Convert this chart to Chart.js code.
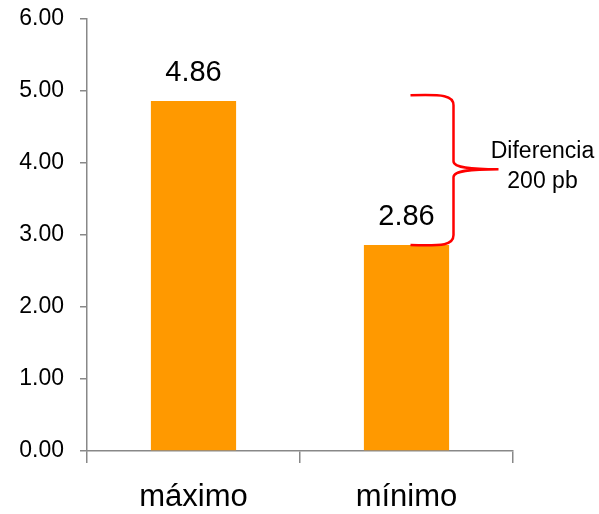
<!DOCTYPE html><html lang="es"><head><meta charset="utf-8">
<title>máximo / mínimo</title>
<script src="https://cdn.jsdelivr.net/npm/chart.js"></script>
<style>
  html, body { margin: 0; padding: 0; background: #fff; }
  #chart { display: block; }
</style>
</head>
<body>
<canvas id="chart" width="599" height="514"></canvas>
<script>
  // datos
  const categories = ['máximo', 'mínimo'];
  const values = [4.86, 2.86];
  const braceRange = [2.86, 4.94]; // la llave roja va de aquí a aquí
  const noteLines = ['Diferencia', '200 pb'];

  const FONT = '"Liberation Sans", Arial, sans-serif';
  const AXIS = '#888888';

  // etiquetas de valor y la llave
  const extras = {
    id: 'extras',
    afterDatasetsDraw(chart) {
      const c = chart.ctx;
      const meta = chart.getDatasetMeta(0);
      c.save();
      c.fillStyle = '#000';
      c.font = '29px ' + FONT;
      c.textAlign = 'center';
      c.textBaseline = 'alphabetic';
      meta.data.forEach((bar, i) => {
        c.fillText(values[i].toFixed(2), bar.x, bar.y - 20);
      });

      const x = chart.scales.x, y = chart.scales.y;
      const cx = x.getPixelForValue(1);
      const yb = y.getPixelForValue(braceRange[0]);
      const yt = y.getPixelForValue(braceRange[1]);
      const ym = (yb + yt) / 2 - 1;
      const x0 = cx + 4, x1 = cx + 47, x2 = cx + 92;
      c.strokeStyle = '#ff0000';
      c.lineWidth = 2.5;
      c.beginPath();
      c.moveTo(x0, yt);
      c.bezierCurveTo(x1 - 10, yt - 1, x1, yt, x1, yt + 10);
      c.lineTo(x1, ym - 8);
      c.bezierCurveTo(x1, ym - 1, x1 + 20, ym, x2, ym);
      c.bezierCurveTo(x1 + 20, ym, x1, ym + 1, x1, ym + 8);
      c.lineTo(x1, yb - 10);
      c.bezierCurveTo(x1, yb, x1 - 10, yb + 1, x0, yb);
      c.stroke();

      c.font = '23px ' + FONT;
      c.fillText(noteLines[0], cx + 136, ym - 11);
      c.fillText(noteLines[1], cx + 136, ym + 19);
      c.restore();
    }
  };

  const ctx = document.getElementById('chart').getContext('2d');
  new Chart(ctx, {
    type: 'bar',
    data: {
      labels: categories,
      datasets: [{
        data: values,
        backgroundColor: '#ff9900',
        borderWidth: 0,
        barPercentage: 0.4,
        categoryPercentage: 1.0
      }]
    },
    options: {
      responsive: false,
      animation: false,
      layout: { padding: { top: 19, right: 86, left: 0, bottom: 0 }, autoPadding: false },
      plugins: { legend: { display: false }, tooltip: { enabled: false } },
      scales: {
        x: {
          grid: { drawOnChartArea: false, drawTicks: true, tickLength: 12, color: AXIS, lineWidth: 1.5 },
          border: { display: true, color: AXIS, width: 1.5 },
          ticks: { color: '#000', font: { size: 31, family: FONT }, padding: 16 },
          afterFit(s) { s.height = 63; s.paddingLeft = 0; s.paddingRight = 0; }
        },
        y: {
          min: 0,
          max: 6,
          ticks: {
            stepSize: 1,
            color: '#000',
            font: { size: 23, family: FONT },
            padding: 16,
            callback: v => v.toFixed(2)
          },
          grid: { drawOnChartArea: false, drawTicks: true, tickLength: 7, color: AXIS, lineWidth: 1.5 },
          border: { display: true, color: AXIS, width: 1.5 },
          afterFit(s) { s.width = 87; s.paddingTop = 0; s.paddingBottom = 0; }
        }
      }
    },
    plugins: [extras]
  });
</script>
</body>
</html>
